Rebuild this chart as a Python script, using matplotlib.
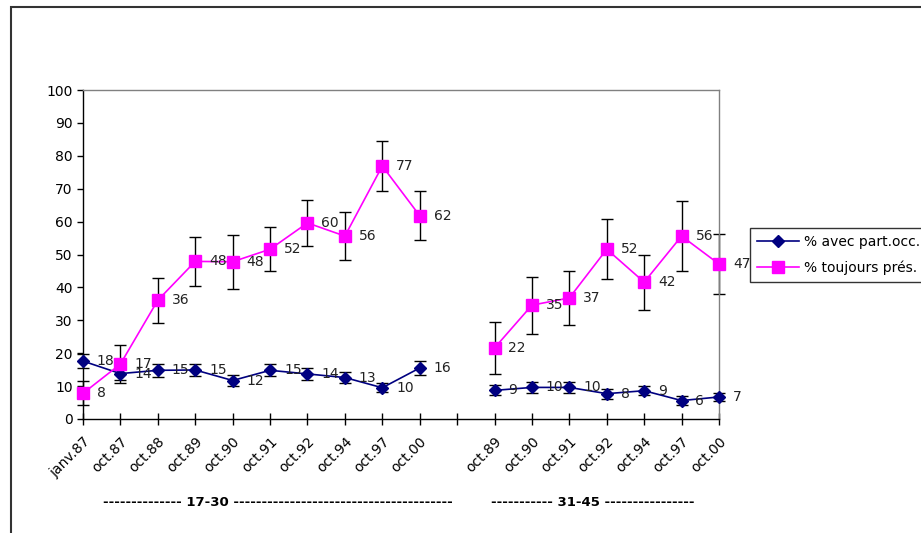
import matplotlib.pyplot as plt
import numpy as np
from matplotlib.patches import Rectangle

# Categories (blank slot separates the two age groups)
categories = ["janv.87", "oct.87", "oct.88", "oct.89", "oct.90", "oct.91", "oct.92",
              "oct.94", "oct.97", "oct.00", "",
              "oct.89", "oct.90", "oct.91", "oct.92", "oct.94", "oct.97", "oct.00"]

# 17-30 group
part_occ_1 = [17.6, 13.8, 14.8, 14.9, 11.7, 14.8, 13.7, 12.6, 9.5, 15.5]
part_occ_err_1 = [2.2, 1.8, 1.9, 1.8, 1.8, 1.8, 1.7, 1.7, 1.4, 2.2]
toujours_1 = [7.8, 16.7, 36.1, 47.9, 47.8, 51.6, 59.6, 55.6, 76.9, 61.8]
toujours_err_1 = [3.6, 5.7, 6.9, 7.4, 8.2, 6.7, 7.0, 7.4, 7.6, 7.5]

# 31-45 group
part_occ_2 = [8.7, 9.6, 9.6, 7.7, 8.6, 5.6, 6.7]
part_occ_err_2 = [1.5, 1.6, 1.6, 1.5, 1.4, 1.3, 1.2]
toujours_2 = [21.6, 34.6, 36.8, 51.6, 41.6, 55.6, 47.1]
toujours_err_2 = [7.8, 8.7, 8.1, 9.1, 8.4, 10.7, 9.0]

navy = "#000080"
magenta = "#FF00FF"

plt.rcParams['font.family'] = ['DejaVu Sans']

fig = plt.figure(figsize=(9.21, 5.33), dpi=100)
ax = fig.add_axes([83 / 921, 1 - 419 / 533, 636 / 921, 329 / 533])

x1 = np.arange(0, 10)
x2 = np.arange(11, 18)

for xs, po, poe, tj, tje in [(x1, part_occ_1, part_occ_err_1, toujours_1, toujours_err_1),
                             (x2, part_occ_2, part_occ_err_2, toujours_2, toujours_err_2)]:
    ax.errorbar(xs, po, yerr=poe, fmt="none", ecolor="black", elinewidth=1,
                capsize=4.5, capthick=1, zorder=2, clip_on=False)
    ax.errorbar(xs, tj, yerr=tje, fmt="none", ecolor="black", elinewidth=1,
                capsize=4.5, capthick=1, zorder=2, clip_on=False)
    ax.plot(xs, po, color=navy, lw=1.2, marker="D", markersize=6.5,
            zorder=3, clip_on=False)
    ax.plot(xs, tj, color=magenta, lw=1.2, marker="s", markersize=8,
            zorder=3, clip_on=False)
    for xi, v in zip(xs, po):
        ax.annotate(f"{v:.0f}", (xi, v), xytext=(10, 0), textcoords="offset points",
                    va="center", ha="left", fontsize=10, color="#222222", zorder=4)
    for xi, v in zip(xs, tj):
        ax.annotate(f"{v:.0f}", (xi, v), xytext=(10, 0), textcoords="offset points",
                    va="center", ha="left", fontsize=10, color="#222222", zorder=4)

ax.set_xlim(0, 17)
ax.set_ylim(0, 100)
ax.set_yticks(range(0, 101, 10))
ax.set_xticks(range(len(categories)))
ax.set_xticklabels(categories, rotation=45, ha="right", rotation_mode="anchor", fontsize=10)
ax.tick_params(axis="y", direction="out", length=4, labelsize=10, width=1)
ax.tick_params(axis="x", direction="inout", length=8, width=1, pad=7)

for s in ["left", "bottom"]:
    ax.spines[s].set_color("black")
    ax.spines[s].set_linewidth(1)
for s in ["top", "right"]:
    ax.spines[s].set_color("#808080")
    ax.spines[s].set_linewidth(1)

# Legend
handles = [plt.Line2D([], [], color=navy, marker="D", markersize=6.5, lw=1.2),
           plt.Line2D([], [], color=magenta, marker="s", markersize=8, lw=1.2)]
leg = fig.legend(handles, ["% avec part.occ.", "% toujours prés."],
                 loc="upper left", bbox_to_anchor=(750 / 921, 1 - 228 / 533),
                 frameon=True, fancybox=False, edgecolor="black", fontsize=10,
                 handlelength=3, borderpad=0.5, labelspacing=0.8, handletextpad=0.4,
                 borderaxespad=0)
leg.get_frame().set_linewidth(1)

# Age group captions
fig.text(278 / 921, 1 - 503 / 533,
         "-------------- 17-30 ---------------------------------------",
         ha="center", va="center", fontsize=9.5, fontweight="bold")
fig.text(593 / 921, 1 - 503 / 533,
         "----------- 31-45 ----------------",
         ha="center", va="center", fontsize=9.5, fontweight="bold")

# Outer chart frame
fig.patches.append(Rectangle((11 / 921, -0.1), 1.2, 1 - 7 / 533 + 0.1,
                             transform=fig.transFigure, fill=False,
                             edgecolor="#333333", linewidth=1.5))

fig.savefig("out.png", dpi=100)
